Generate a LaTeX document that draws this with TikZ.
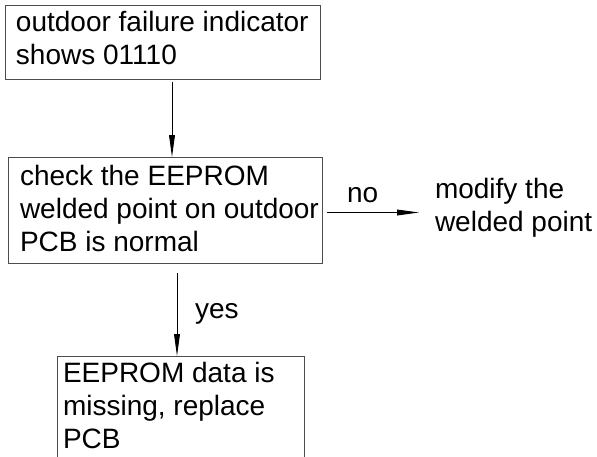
\documentclass[tikz,border=0pt]{standalone}
\usepackage{fontspec}
\setmainfont{Liberation Sans}
\usetikzlibrary{arrows.meta}
\begin{document}
\begin{tikzpicture}[x=1pt,y=-1pt,
  boxst/.style={draw=black!70, line width=0.9pt, outer sep=0pt, inner sep=0pt, anchor=north west},
  txt/.style={inner sep=0pt, outer sep=0pt, align=left, anchor=north west, font=\fontsize{28}{33}\selectfont},
  lbl/.style={inner sep=0pt, outer sep=0pt, anchor=base west, font=\fontsize{28}{33}\selectfont},
  conn/.style={draw=black, line width=0.9pt, -{Triangle[length=22pt,width=5.8pt]}}]
\useasboundingbox (0,0) rectangle (597,456);
% boxes
\node[boxst, minimum width=315pt, minimum height=73.5pt] (b1) at (5.5,5.5) {};
\node[boxst, minimum width=314pt, minimum height=106pt] (b2) at (8,157) {};
\node[boxst, minimum width=247pt, minimum height=114pt] (b3) at (57,356) {};
% texts
\node[txt] (t1) at (16,11.2) {outdoor failure indicator\\shows 01110};
\node[txt] (t2) at (20,164.9) {check the EEPROM\\welded point on outdoor\\PCB is normal};
\node[txt] (t3) at (63,362.4) {EEPROM data is\\missing, replace\\PCB};
\node[txt] (mod) at (435,178.2) {modify the\\welded point};
\node[lbl] (no) at (347,202) {no};
\node[lbl] (yes) at (195,318) {yes};
% connectors
\draw[conn] ([shift={(9pt,-2.5pt)}]b1.south) coordinate (s1) -- (s1 |- b2.north);
\draw[conn] ([shift={(5pt,-2.5pt)}]b2.east) coordinate (s2) -- ([xshift=-16pt]s2 -| mod.west);
\draw[conn] ([shift={(12pt,-10pt)}]b2.south) coordinate (s3) -- (s3 |- b3.north);
\end{tikzpicture}
\end{document}
